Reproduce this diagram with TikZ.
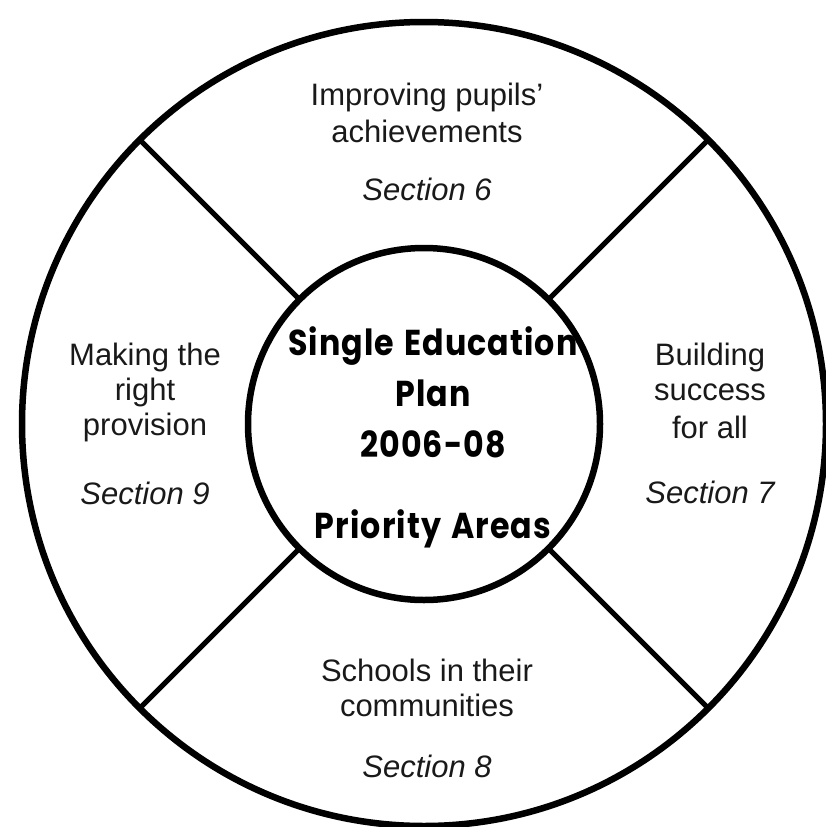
\documentclass[tikz,border=0pt]{standalone}
\usepackage{fontspec}
\setmainfont{Liberation Sans}
\newfontfamily\ctrfont{Poppins}[LetterSpace=3,WordSpace=1.3,FakeStretch=0.88]
\begin{document}
\begin{tikzpicture}[x=1pt,y=-1pt,
  ring/.style={circle,draw=black,inner sep=0pt,outer sep=0pt},
  spoke/.style={draw=black,line width=5pt},
  lbl/.style={inner sep=0pt,font=\fontsize{31}{35}\selectfont,text=black!90},
  sec/.style={inner sep=0pt,font=\fontsize{31}{35}\selectfont\itshape,text=black!90},
  ctr/.style={inner sep=0pt,font=\fontsize{36}{40}\selectfont\ctrfont\bfseries,text=black}]
\useasboundingbox (0,0) rectangle (826,827);
\coordinate (c) at (424,424);
\node[ring,line width=6.5pt,minimum size=804pt] (outer) at (c) {};
\node[ring,line width=6.5pt,minimum size=352pt] (inner) at (c) {};
\foreach \a in {45,135,225,315} \draw[spoke] (outer.\a) -- (inner.\a);
% top
\node[lbl] (t1) at (427,97) {Improving pupils’};
\node[lbl] (t2) at (427,131) {achievements};
\node[sec] (t3) at (427,189) {Section 6};
% left
\node[lbl] (l1) at (145,357) {Making the};
\node[lbl] (l2) at (145,392) {right};
\node[lbl] (l3) at (145,427) {provision};
\node[sec] (l4) at (145,493) {Section 9};
% right
\node[lbl] (r1) at (710,357) {Building};
\node[lbl] (r2) at (710,392) {success};
\node[lbl] (r3) at (710,427) {for all};
\node[sec] (r4) at (710,492) {Section 7};
% bottom
\node[lbl] (b1) at (427,670) {Schools in their};
\node[lbl] (b2) at (427,705) {communities};
\node[sec] (b3) at (427,766) {Section 8};
% centre
\node[ctr,anchor=base] (c1) at (433,355) {Single Education};
\node[ctr,anchor=base] (c2) at (433,406) {Plan};
\node[ctr,anchor=base] (c3) at (433,457) {2006-08};
\node[ctr,anchor=base] (c4) at (433,538) {Priority Areas};
\end{tikzpicture}
\end{document}
